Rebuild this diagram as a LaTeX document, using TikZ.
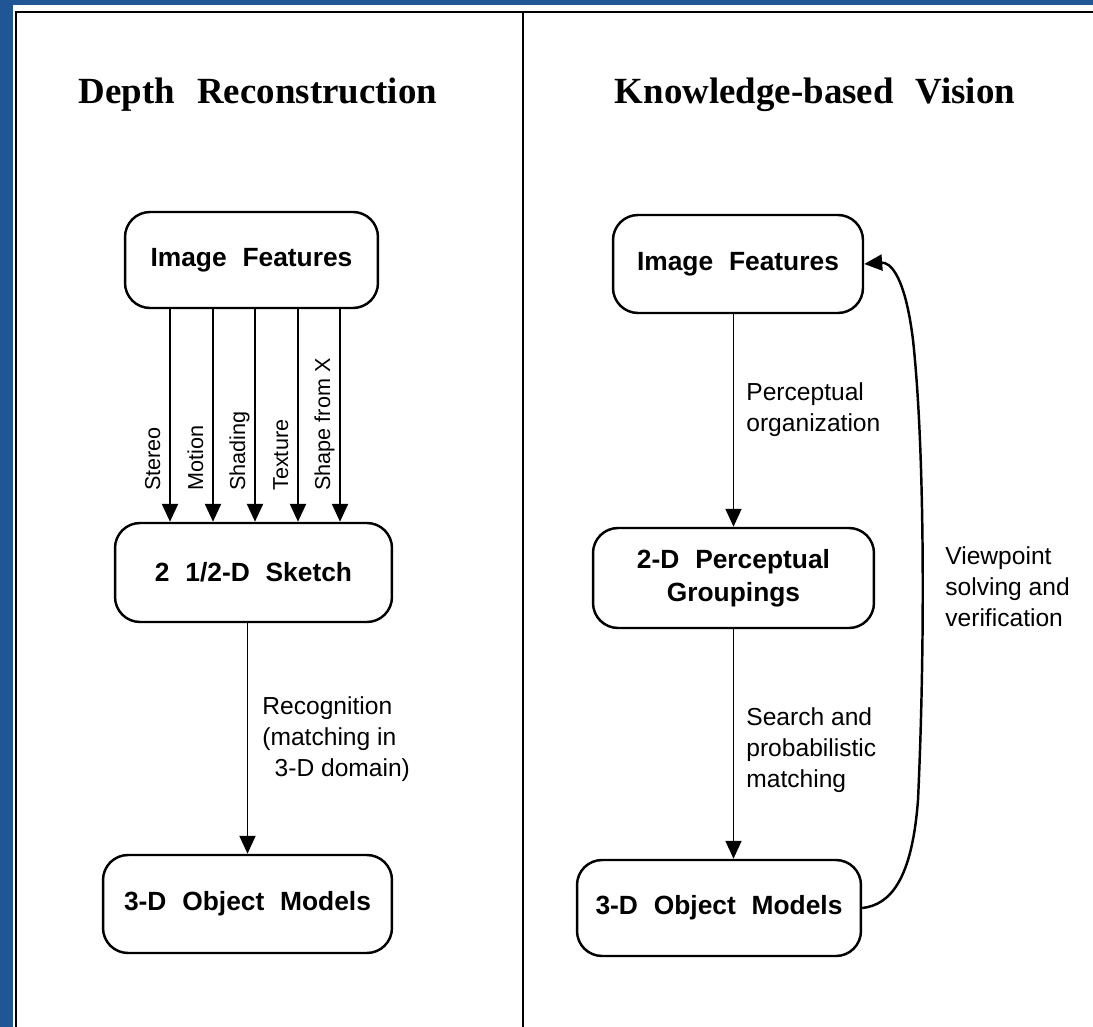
\documentclass[tikz,border=0pt]{standalone}
\usepackage{fontspec}
\setmainfont{Liberation Serif}
\setsansfont{Liberation Sans}
\usetikzlibrary{arrows.meta,positioning}
\definecolor{slideblue}{RGB}{32,86,150}
\tikzset{box node/.style={draw,rounded corners=0.5cm,line width=1.4pt,align=center,inner sep=0pt,font=\sffamily\bfseries\fontsize{15}{19}\selectfont},
         title node/.style={font=\rmfamily\bfseries\fontsize{21}{24}\selectfont},
         edge label/.style={align=left,anchor=north west,inner sep=0pt,font=\sffamily\fontsize{14}{17.6}\selectfont},
         side label/.style={rotate=90,anchor=base west,inner sep=0pt,font=\sffamily\fontsize{12.3}{14}\selectfont}
}
\newcommand{\wsp}{\hspace{0.6em}}

\begin{document}
\begin{tikzpicture}[x=0.02cm,y=-0.02cm,
>={Triangle[length=0.36cm,width=0.32cm]}]
\useasboundingbox (0,0) rectangle (1093,1027);
% slide and page
\fill[slideblue] (0,0) rectangle (1093,1027);
\fill[white] (13,5) rectangle (1093,1027);
\draw[line width=1.5pt] (16,1027) -- (16,12) -- (1093,12);
\draw[line width=1.2pt] (523,12) -- (523,1027);

% left: depth reconstruction
\node[title node] (tL) at (258,95) {Depth\wsp Reconstruction};
\node[box node, minimum width=5.06cm, minimum height=1.92cm] (imgL) at (251.5,260) {Image\wsp Features};
\node[box node, minimum width=5.54cm, minimum height=1.98cm] (sketch) at (253.5,572.5) {2\wsp 1/2-D\wsp Sketch};
\node[box node, minimum width=5.78cm, minimum height=1.96cm] (objL) at (247.5,904) {3-D\wsp Object\wsp Models};

\foreach \x/\lbl in {170/Stereo,213/Motion,255/Shading,298/Texture,340/Shape from X}{
    \draw[->,line width=1.3pt] (\x,0 |- imgL.south) -- (\x,0 |- sketch.north);
    \node[side label] (cue\x) at ({\x-10},491) {\lbl};
}

\draw[->,line width=1.1pt] (sketch.south -| objL.north) -- (objL.north);
\node[edge label] (recog) at (262,696) {Recognition\\(matching in\\\hspace{0.5em}3-D domain)};

% right: knowledge-based vision
\node[title node] (tR) at (815,95) {Knowledge-based\wsp Vision};
\node[box node, minimum width=5.0cm, minimum height=1.96cm] (imgR) at (738,264) {Image\wsp Features};
\node[box node, minimum width=5.62cm, minimum height=2.0cm] (groupR) at (733.5,578) {2-D\wsp Perceptual\\Groupings};
\node[box node, minimum width=5.68cm, minimum height=1.92cm] (objR) at (719,908) {3-D\wsp Object\wsp Models};

\draw[->,line width=1pt] (imgR.south -| groupR.north) -- (groupR.north);
\draw[->,line width=1pt] (groupR.south) -- (objR.north -| groupR.south);
\node[edge label] (perc) at (746,382) {Perceptual\\organization};
\node[edge label] (search) at (746,707) {Search and\\probabilistic\\matching};

\coordinate (vpLow) at (918,800);
\coordinate (vpHigh) at (913,340);
\draw[->,line width=1.4pt] (objR.east) .. controls (890,905) and (912,880) .. (vpLow)
    .. controls (925,650) and (925,450) .. (vpHigh)
    .. controls (905,275) and (890,262) .. (imgR.east);
\node[edge label] (vp) at (945,546) {Viewpoint\\solving and\\verification};
\end{tikzpicture}
\end{document}
